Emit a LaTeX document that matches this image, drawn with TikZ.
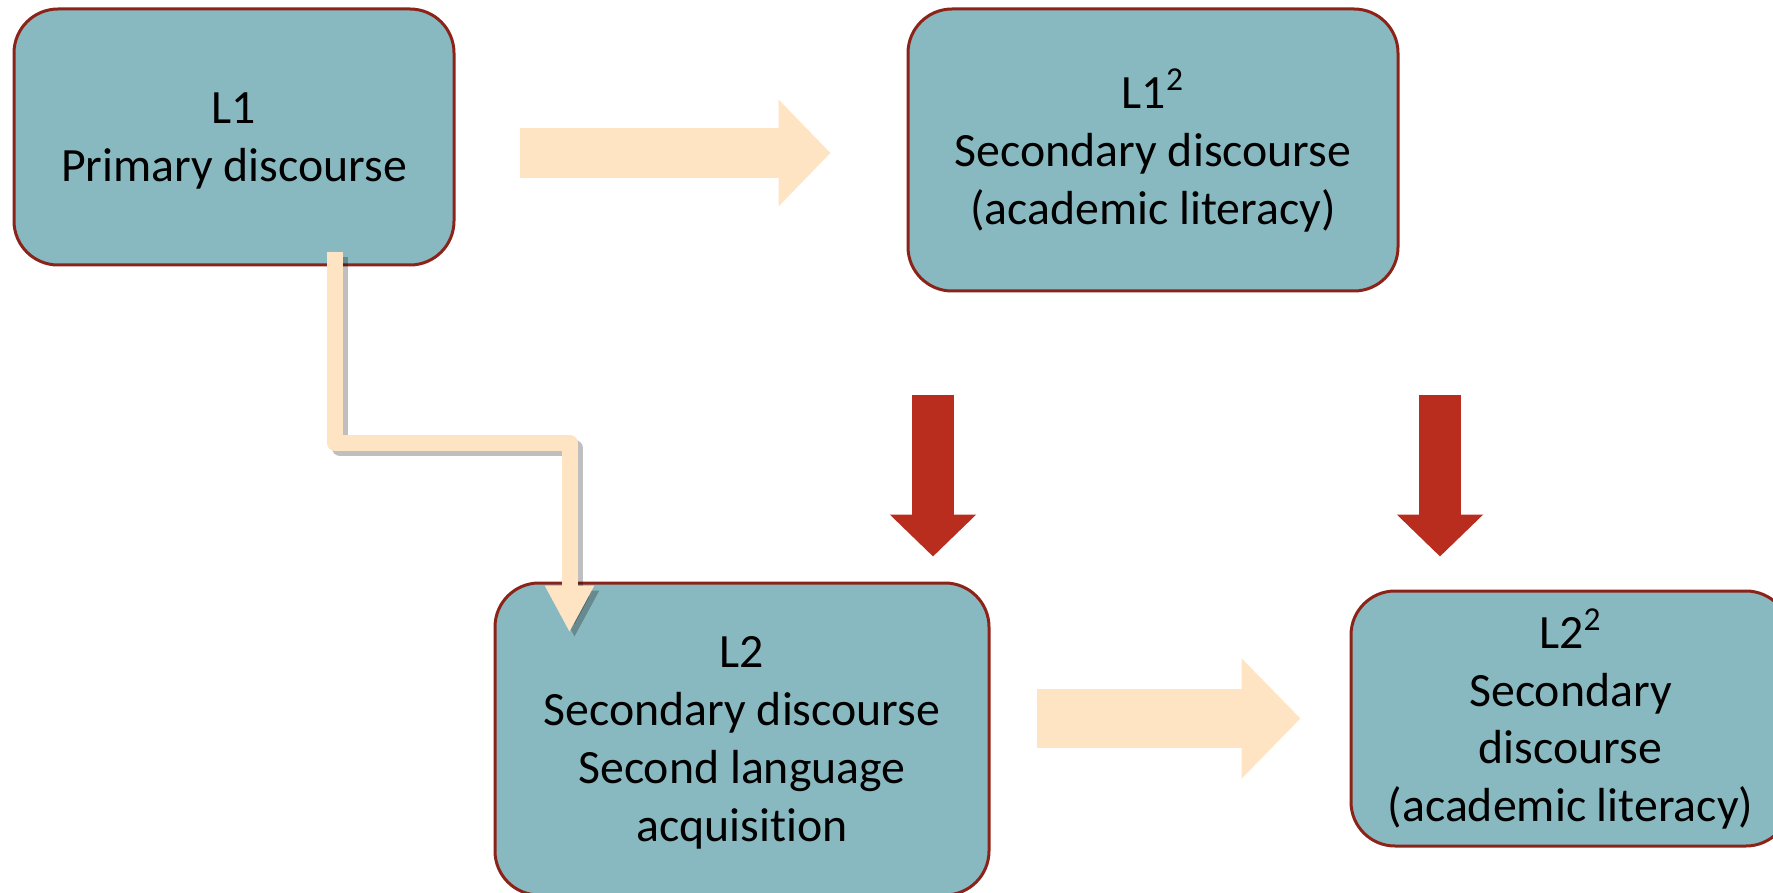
\documentclass[tikz,border=0pt]{standalone}
\usepackage{fontspec}
\setmainfont{Carlito}[Ligatures=NoCommon]
\usepackage{tikz}
\usetikzlibrary{arrows.meta,calc}

\definecolor{tealfill}{RGB}{137,185,192}
\definecolor{rustline}{RGB}{140,35,25}
\definecolor{rustred}{RGB}{185,45,30}
\definecolor{bisquefill}{RGB}{255,228,196}

\begin{document}
\begin{tikzpicture}[x=0.5pt,y=-0.5pt,
		box/.style={draw=rustline,line width=1.5pt,fill=tealfill,rounded corners=22pt,
			align=center,inner sep=0pt,font=\fontsize{23.9}{28.85}\selectfont},
		flat/.style={draw=bisquefill,line width=#1},
		downred/.style={draw=rustred,line width=21pt,-{Triangle[width=42pt,length=21pt]}},
		elbow/.style={draw=bisquefill,line width=8pt,line join=round,-{Triangle[width=23pt,length=23.5pt]}}]
		\useasboundingbox (0,0) rectangle (1773,893);
		\node[box,text depth=0pt,minimum width=220pt,minimum height=128pt] (l1) at (234,137) {L1\\Primary discourse};
		\node[box,text depth=3.5pt,minimum width=245pt,minimum height=141pt] (l1sq) at (1153,150) {L1\textsuperscript{2}\\Secondary discourse\\(academic literacy)};
		\node[box,text depth=-2pt,minimum width=247pt,minimum height=156pt] (l2) at (742,739) {L2\\Secondary discourse\\Second language\\acquisition};
		\node[box,text depth=3.5pt,minimum width=219.5pt,minimum height=127.5pt] (l2sq) at (1570.5,718.5) {L2\textsuperscript{2}\\Secondary\\discourse\\(academic literacy)};
		\coordinate (ya) at (0,153);
		\coordinate (yb) at (0,718.5);
		\coordinate (ra) at (933,0);
		\coordinate (rb) at (1440,0);
		\coordinate (drop) at (335,0);
		\coordinate (bend) at (569.5,443);
		\draw[flat=25pt,-{Triangle[width=52pt,length=26pt]},shorten <=32pt,shorten >=38pt] (l1.east |- ya) -- (l1sq.west |- ya);
		\draw[flat=29.5pt,-{Triangle[width=58.5pt,length=29.5pt]},shorten <=23pt,shorten >=24.5pt] (l2.east |- yb) -- (l2sq.west |- yb);
		\draw[downred,shorten <=51pt,shorten >=12.5pt] (l1sq.south -| ra) -- (l2.north -| ra);
		\draw[downred,shorten <=51pt,shorten >=16.5pt] (l1sq.south -| rb) -- (l2sq.north -| rb);
		\draw[elbow,draw=black,opacity=.25,transform canvas={shift={(2.5pt,-2.5pt)}}] ($(l1.south -| drop)+(0,-14)$) |- (bend) -- ($(l2.north -| bend)+(0,51)$);
		\draw[elbow] ($(l1.south -| drop)+(0,-14)$) |- (bend) -- ($(l2.north -| bend)+(0,51)$);
	\end{tikzpicture}
\end{document}
